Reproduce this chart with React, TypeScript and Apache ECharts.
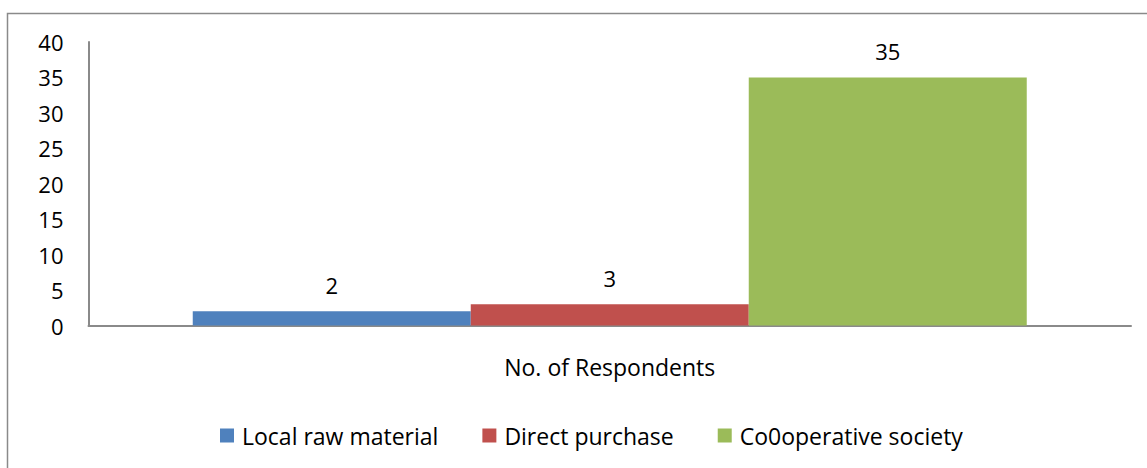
import React, { useEffect, useRef } from "react";
import * as echarts from "echarts";

const categories = ["No. of Respondents"];
const seriesNames = ["Local raw material", "Direct purchase", "Co0operative society"];
const seriesValues = [[2], [3], [35]];
const seriesColors = ["#4f81bd", "#c0504d", "#9bbb59"];
const yTicks = { min: 0, max: 40, interval: 5 };

const FONT = "'Open Sans', sans-serif";

export default function App() {
  const ref = useRef<HTMLDivElement>(null);
  useEffect(() => {
    if (!ref.current) return;
    const chart = echarts.init(ref.current, undefined, { renderer: "svg" });
    chart.setOption({
      animation: false,
      backgroundColor: "#fff",
      textStyle: { fontFamily: FONT },
      graphic: [
        {
          type: "rect",
          shape: { x: 7.5, y: 13.5, width: 1300, height: 600 },
          style: { fill: "none", stroke: "#8a8a8a", lineWidth: 1.5 },
          silent: true,
        },
      ],
      grid: { left: 88.5, right: 16, top: 42, bottom: 142.5, containLabel: false },
      legend: {
        left: 215,
        top: 419,
        itemWidth: 14,
        itemHeight: 14,
        itemGap: 44,
        icon: "rect",
        textStyle: { fontFamily: FONT, fontSize: 23, color: "#000", padding: [0, 0, 0, 3] },
        data: seriesNames,
      },
      xAxis: {
        type: "category",
        data: categories,
        axisLine: { lineStyle: { color: "#8a8a8a", width: 2 } },
        axisTick: { show: false },
        axisLabel: { fontFamily: FONT, fontSize: 23, color: "#000", margin: 30 },
      },
      yAxis: {
        type: "value",
        min: yTicks.min,
        max: yTicks.max,
        interval: yTicks.interval,
        axisLine: { show: true, lineStyle: { color: "#8a8a8a", width: 2 } },
        axisTick: { show: false },
        splitLine: { show: false },
        axisLabel: { fontFamily: FONT, fontSize: 22, color: "#000", margin: 25 },
      },
      series: seriesNames.map((name, i) => ({
        name,
        type: "bar",
        data: seriesValues[i],
        barGap: "0%",
        barCategoryGap: "20%",
        itemStyle: { color: seriesColors[i] },
        label: {
          show: true,
          position: "top",
          distance: 15,
          fontFamily: FONT,
          fontSize: 22,
          color: "#000",
        },
      })),
    });
    return () => chart.dispose();
  }, []);
  return (
    <div
      ref={ref}
      style={{ position: "fixed", left: 0, top: 0, width: 1147, height: 468 }}
    />
  );
}
